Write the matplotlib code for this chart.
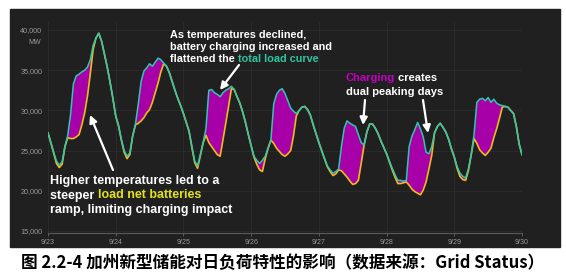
import numpy as np
import matplotlib.pyplot as plt
from matplotlib.patches import Rectangle

plt.rcParams['font.family'] = ['Liberation Sans', 'DejaVu Sans']

# hourly values, 9/23 00:00 -> 9/30 00:00 (MW)
day_labels = ["9/23", "9/24", "9/25", "9/26", "9/27", "9/28", "9/29", "9/30"]
y_ticks = [15000, 20000, 25000, 30000, 35000, 40000]

load = [
    27200, 26000, 24800, 23700, 23200, 23600, 25500, 26900, 29500, 33300, 34300, 34500,
    34800, 35000, 35400, 36300, 38100, 39000, 39600, 38600, 37000, 35400, 33500, 31500,
    29300, 28100, 26400, 25000, 24300, 24700, 26800, 28300, 30800, 33600, 34900, 35300,
    35800, 35500, 36000, 36500, 36300, 35900, 35500, 34700, 33600, 32500, 31500, 30600,
    29600, 28500, 27400, 25500, 23700, 23100, 24500, 26000, 27800, 32500, 32600, 32200,
    32000, 31700, 32200, 32500, 32700, 33000, 32600, 31700, 30900, 29800, 28500, 27000,
    25600, 24300, 23800, 23400, 23800, 24300, 25300, 26300, 30800, 32000, 32500, 32700,
    32100, 31200, 30300, 29900, 29600, 30000, 30400, 30500, 30100, 29400, 28200, 27100,
    26000, 25000, 24000, 23100, 22600, 22200, 22400, 22700, 25500, 27800, 28700, 28400,
    28200, 28000, 27000, 26000, 25700, 27300, 28300, 28300, 27800, 27100, 26200, 25400,
    24600, 23700, 22800, 22000, 21300, 21300, 21200, 21300, 25500, 26800, 27600, 28500,
    27700, 26700, 24800, 24600, 25500, 27200, 28000, 28400, 27900, 27300, 26400, 25200,
    24200, 23000, 22200, 21800, 21600, 22700, 24500, 27000, 31000, 31400, 31500, 31200,
    31600, 31000, 31400, 30900, 30700, 30600, 30500, 30400, 30000, 29600, 28000, 25800,
    24500,
]

net_load = [
    27200, 26000, 24700, 23400, 22900, 23300, 25500, 26600, 26500, 26500, 26700, 27000,
    28200, 29700, 31800, 34600, 37600, 39000, 39600, 38600, 37000, 35400, 33500, 31500,
    29300, 28100, 26300, 24800, 24000, 24500, 26800, 28200, 28400, 28700, 29100, 29700,
    30100, 31000, 32200, 33400, 34800, 35800, 35500, 34700, 33600, 32500, 31500, 30600,
    29600, 28500, 27400, 25400, 23500, 22800, 24400, 26000, 26900, 26000, 25500, 25000,
    24500, 24300, 26300, 28400, 30500, 32700, 32600, 31700, 30900, 29800, 28500, 27000,
    25600, 24200, 23300, 22600, 22400, 24000, 25300, 26300, 25900, 25300, 24900, 24500,
    24300, 24600, 25000, 26800, 29300, 30000, 30400, 30500, 30100, 29400, 28200, 27100,
    26000, 25000, 24000, 23000, 22400, 21900, 22100, 22600, 22500, 22100, 21700, 21200,
    20800, 20900, 21300, 23400, 25600, 27300, 28300, 28300, 27800, 27100, 26200, 25400,
    24600, 23600, 22600, 21700, 20900, 20900, 21000, 21100, 20700, 20200, 19900, 19700,
    19500, 20100, 21100, 22700, 24400, 27200, 28000, 28400, 27900, 27300, 26400, 25200,
    24200, 22800, 21800, 21400, 21300, 22500, 24500, 26500, 25900, 25100, 24700, 24400,
    24800, 25300, 26600, 27700, 29000, 30400, 30500, 30400, 30000, 29600, 28000, 25800,
    24500,
]

load = np.array(load)
net = np.array(net_load)
hours = np.arange(len(load))

W, H = 566, 275
BG = '#202020'
TEAL = '#2fc6b2'
YELLOW = '#f2b81c'
MAGENTA = '#a800a8'

fig = plt.figure(figsize=(W / 100, H / 100), dpi=100)
fig.patch.set_facecolor('white')
fig.add_artist(Rectangle((10 / W, 28 / H), 550 / W, 238 / H,
                         transform=fig.transFigure, color=BG, zorder=0))

ax = fig.add_axes([48 / W, 1 - 233 / H, (522 - 48) / W, (233 - 22) / H])
ax.set_facecolor(BG)
ax.set_xlim(0, 168)
ax.set_ylim(14750, 41000)

ax.fill_between(hours, net, load, where=load > net, interpolate=True,
                color=MAGENTA, lw=0, zorder=2)
ax.plot(hours, net, color=YELLOW, lw=1.2, zorder=3)
ax.plot(hours, load, color=TEAL, lw=1.1, zorder=4)

ax.set_xticks(np.arange(0, 169, 24))
ax.set_xticklabels(day_labels)
ax.set_yticks(y_ticks)
ax.set_yticklabels([f"{v:,}" for v in y_ticks])
ax.tick_params(axis='x', colors='#666666', labelcolor='#9a9a9a', labelsize=5,
               length=2, width=0.6, pad=2)
ax.tick_params(axis='y', labelcolor='#9a9a9a', labelsize=5.2, length=0, pad=4)
ax.grid(color='#2d2d2d', lw=0.6)
for s in ['top', 'right', 'left']:
    ax.spines[s].set_visible(False)
ax.spines['bottom'].set_color('#5a5a5a')
ax.spines['bottom'].set_linewidth(0.8)

fig.text(35 / W, 1 - 43 / H, 'MW', ha='center', va='center', fontsize=5,
         color='#9a9a9a')


def rich_line(x, y, parts, size):
    prev = None
    for s, c in parts:
        if prev is None:
            prev = fig.text(x / W, 1 - y / H, s, color=c, fontsize=size,
                            fontweight='bold', ha='left', va='baseline')
        else:
            prev = ax.annotate(s, xy=(1, 0), xycoords=prev, color=c,
                               fontsize=size, fontweight='bold',
                               ha='left', va='bottom')


def arrow(tail, tip):
    ax.annotate('', xy=(tip[0], H - tip[1]), xycoords='figure pixels',
                xytext=(tail[0], H - tail[1]), textcoords='figure pixels',
                arrowprops=dict(arrowstyle='-|>', color='white', lw=1.6,
                                mutation_scale=11, shrinkA=0, shrinkB=0))


rich_line(170, 37.5, [("As temperatures declined,", 'white')], 7.8)
rich_line(170, 50, [("battery charging increased and", 'white')], 7.8)
rich_line(170, 62.5, [("flattened the ", 'white'), ("total load curve", '#2ec4a0')], 7.8)

rich_line(346, 81, [("Charging", '#c400c4'), (" creates", 'white')], 8)
rich_line(346, 95, [("dual peaking days", 'white')], 8)

rich_line(50, 184, [("Higher temperatures led to a", 'white')], 9)
rich_line(50, 198.5, [("steeper ", 'white'), ("load net batteries", '#e4e020')], 9)
rich_line(50, 213, [("ramp, limiting charging impact", 'white')], 9)

arrow((239, 65), (220, 90))
arrow((365, 100), (363, 125))
arrow((423, 100), (428, 133))
arrow((113, 170), (90, 115))

fig.text(0.5, 1 - 263 / H,
         "图 2.2-4 加州新型储能对日负荷特性的影响（数据来源：Grid Status）",
         ha='center', va='center', fontsize=12, fontweight='bold',
         family=['Noto Sans CJK SC', 'DejaVu Sans'], color='black')

fig.savefig('out.png', dpi=100)
